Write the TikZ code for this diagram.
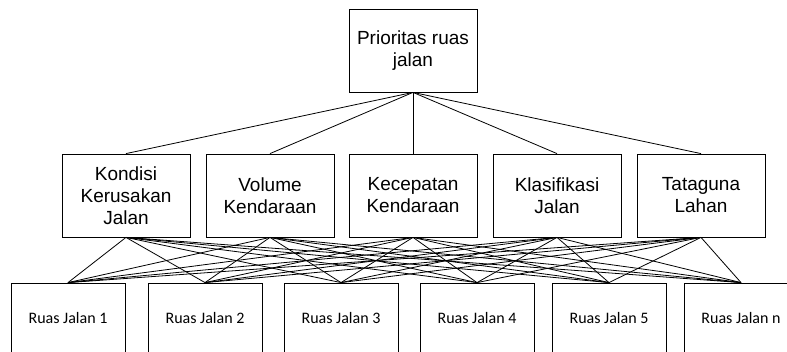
\documentclass[tikz,border=0pt]{standalone}
\usepackage{fontspec}
\setmainfont{Liberation Sans}
\newfontfamily\ruasfont{Carlito}
\begin{document}
\begin{tikzpicture}[x=1pt,y=-1pt,
        kotak/.style={draw,line width=0.8pt,inner sep=0pt,align=center},
        kriteria/.style={kotak,minimum width=128pt,minimum height=83pt,font=\fontsize{19}{22}\selectfont},
        ruas/.style={kotak,minimum width=114pt,minimum height=71pt,font=\ruasfont\fontsize{16}{19}\selectfont},
        hub/.style={line width=0.8pt}]
    \useasboundingbox (0,0) rectangle (787,352);

    \node[kriteria] (tujuan) at (413,50.5) {Prioritas ruas\\jalan};

    \foreach \x/\nama/\teks in {126/k1/Kondisi\\Kerusakan\\Jalan,
            270/k2/Volume\\Kendaraan,
            413/k3/Kecepatan\\Kendaraan,
            557/k4/Klasifikasi\\Jalan,
            701/k5/Tataguna\\Lahan}
        \node[kriteria] (\nama) at (\x,195.5) {\teks};

    \foreach \x/\nama/\teks in {68/r1/1,205/r2/2,341/r3/3,477/r4/4,609/r5/5,741/r6/n}
        \node[ruas] (\nama) at (\x,318.5) {Ruas Jalan \teks};

    \foreach \i in {1,...,5}
        \draw[hub] (tujuan.south) -- (k\i.north);
    \foreach \i in {1,...,5}
        \foreach \j in {1,...,6}
            \draw[hub] (k\i.south) -- (r\j.north);
\end{tikzpicture}
\end{document}
